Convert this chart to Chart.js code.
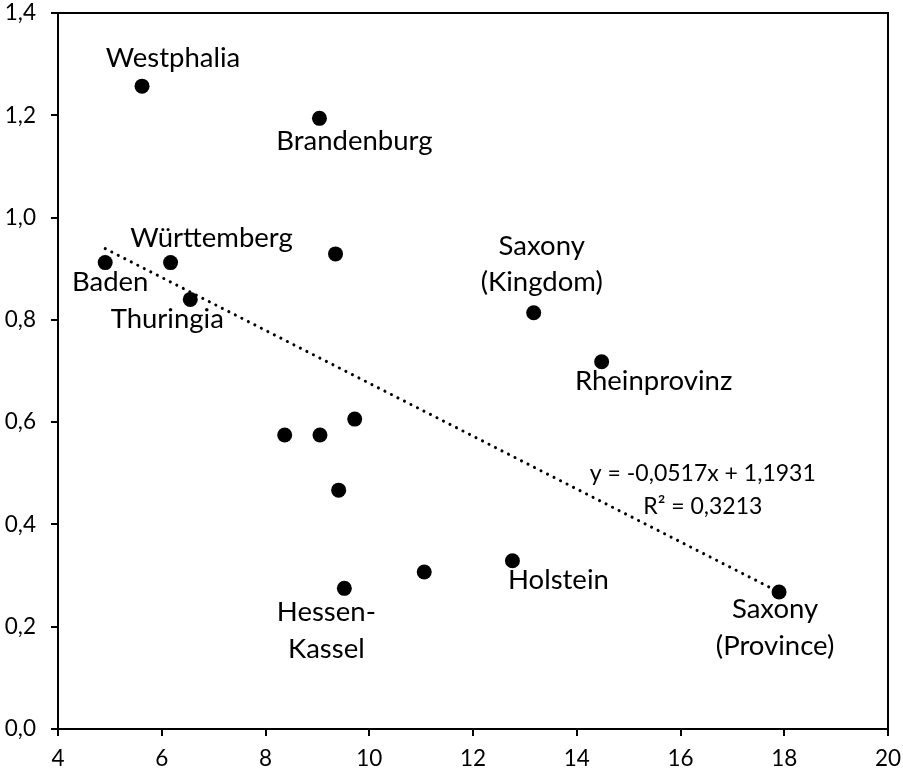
<!DOCTYPE html>
<html>
<head>
<meta charset="utf-8">
<script src="https://cdn.jsdelivr.net/npm/chart.js@4/dist/chart.umd.min.js"></script>
<style>
  html, body { margin: 0; padding: 0; background: #ffffff; }
  #wrap { width: 903px; height: 769px; }
</style>
</head>
<body>
<div id="wrap"><canvas id="chart" width="903" height="769"></canvas></div>
<script>
// Regions and their two measures
const regions = ['Westphalia', 'Brandenburg', 'Baden', 'Württemberg', '', 'Thuringia',
  'Saxony\n(Kingdom)', 'Rheinprovinz', '', '', '', '', '', 'Hessen-\nKassel', 'Holstein', 'Saxony\n(Province)'];
const xValues = [5.62, 9.04, 4.91, 6.17, 9.35, 6.55, 13.17, 14.48, 8.37, 9.05, 9.72, 9.41, 11.06, 9.52, 12.76, 17.90];
const yValues = [1.257, 1.194, 0.912, 0.912, 0.929, 0.840, 0.814, 0.718, 0.575, 0.575, 0.606, 0.467, 0.307, 0.275, 0.329, 0.268];

// Linear trend fitted to the points
const trendSlope = -0.0517;
const trendIntercept = 1.1931;
const trendR2 = 0.3213;

// Axis ticks
const xTicks = [4, 6, 8, 10, 12, 14, 16, 18, 20];
const yTicks = [0, 0.2, 0.4, 0.6, 0.8, 1.0, 1.2, 1.4];

const comma = (v, d) => v.toFixed(d).replace('.', ',');

const points = xValues.map((x, i) => ({ x: x, y: yValues[i] }));
const xMin = Math.min(...xValues), xMax = Math.max(...xValues);
const trendPoints = [xMin, xMax].map(x => ({ x: x, y: trendIntercept + trendSlope * x }));

// Where each region name sits relative to its marker (px): centre offset, first baseline offset
const labelOffsets = {
  'Westphalia': [31, -19],
  'Brandenburg': [35, 32],
  'Baden': [5, 28],
  'Württemberg': [41, -16],
  'Thuringia': [-23, 29],
  'Saxony\n(Kingdom)': [8, -58],
  'Rheinprovinz': [52, 28],
  'Hessen-\nKassel': [-18, 33],
  'Holstein': [46, 28],
  'Saxony\n(Province)': [-4, 26]
};

const FONT = 'Lato, "Open Sans", sans-serif';
const TICK_SIZE = 22.5;

const pointLabels = {
  id: 'pointLabels',
  afterDatasetsDraw(chart) {
    const ctx = chart.ctx;
    const meta = chart.getDatasetMeta(0);
    ctx.save();
    ctx.fillStyle = '#000';
    ctx.font = '27.5px ' + FONT;
    ctx.textAlign = 'center';
    ctx.textBaseline = 'alphabetic';
    meta.data.forEach((el, i) => {
      const name = regions[i];
      if (!name) return;
      const off = labelOffsets[name] || [0, -20];
      name.split('\n').forEach((line, k) => {
        ctx.fillText(line, el.x + off[0], el.y + off[1] + k * 36.7);
      });
    });
    // trend equation
    const xs = chart.scales.x, ys = chart.scales.y;
    const ex = xs.getPixelForValue(16.43), ey = ys.getPixelForValue(0.484);
    ctx.font = '23px ' + FONT;
    const sign = trendIntercept >= 0 ? ' + ' : ' - ';
    ctx.fillText('y = ' + comma(trendSlope, 4) + 'x' + sign + comma(Math.abs(trendIntercept), 4), ex, ey);
    ctx.fillText('R² = ' + comma(trendR2, 4), ex, ey + 32.5);
    ctx.restore();
  }
};

const frame = {
  id: 'frame',
  afterDraw(chart) {
    const a = chart.chartArea, ctx = chart.ctx;
    ctx.save();
    ctx.strokeStyle = '#000';
    ctx.lineWidth = 2;
    ctx.strokeRect(a.left, a.top, a.right - a.left, a.bottom - a.top);
    ctx.restore();
  }
};

new Chart(document.getElementById('chart'), {
  type: 'scatter',
  data: {
    datasets: [
      {
        label: 'Regions',
        data: points,
        backgroundColor: '#000',
        borderWidth: 0,
        pointRadius: 7.5,
        pointHoverRadius: 7.5,
        order: 1
      },
      {
        label: 'Linear trend',
        type: 'line',
        data: trendPoints,
        borderColor: '#000',
        borderWidth: 3,
        borderDash: [0.1, 7.2],
        borderCapStyle: 'round',
        pointRadius: 0,
        fill: false,
        order: 2
      }
    ]
  },
  options: {
    responsive: false,
    animation: false,
    events: [],
    layout: { padding: { top: 13, right: 15, left: 0, bottom: 0 } },
    plugins: { legend: { display: false }, tooltip: { enabled: false } },
    scales: {
      x: {
        type: 'linear',
        min: 4, max: 20,
        afterBuildTicks(scale) { scale.ticks = xTicks.map(v => ({ value: v })); },
        afterFit(scale) { scale.height = 40; scale.paddingLeft = 0; scale.paddingRight = 0; },
        border: { display: false },
        grid: { drawOnChartArea: false, drawTicks: true, tickLength: 7, color: '#000', lineWidth: 2 },
        ticks: { color: '#000', padding: 9, font: { family: FONT, size: TICK_SIZE }, callback: v => String(v), maxRotation: 0 }
      },
      y: {
        type: 'linear',
        min: 0, max: 1.4,
        afterBuildTicks(scale) { scale.ticks = yTicks.map(v => ({ value: v })); },
        afterFit(scale) { scale.width = 58; scale.paddingTop = 0; scale.paddingBottom = 0; },
        border: { display: false },
        grid: { drawOnChartArea: false, drawTicks: true, tickLength: 7, color: '#000', lineWidth: 2 },
        ticks: { color: '#000', padding: 15, font: { family: FONT, size: TICK_SIZE }, callback: v => comma(v, 1) }
      }
    }
  },
  plugins: [pointLabels, frame]
});
</script>
</body>
</html>
